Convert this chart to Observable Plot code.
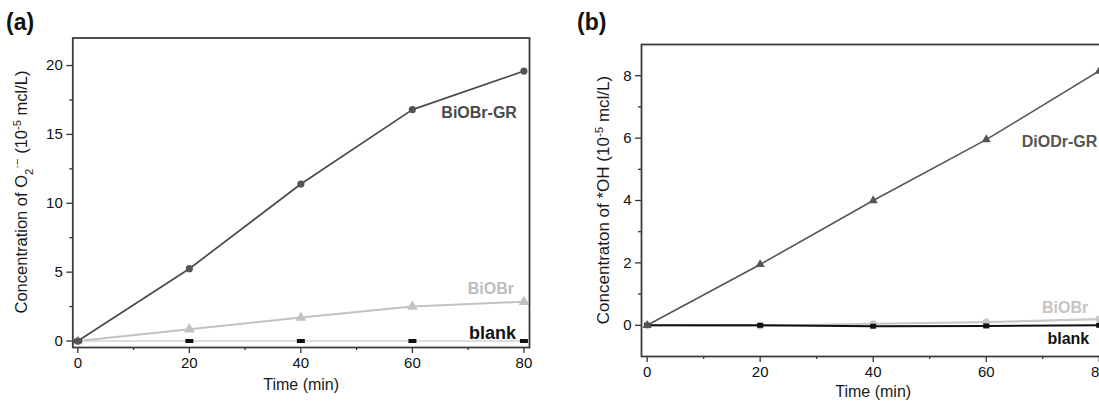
<!DOCTYPE html>
<html>
<head>
<meta charset="utf-8">
<script src="https://cdn.jsdelivr.net/npm/d3@7"></script>
<script src="https://cdn.jsdelivr.net/npm/@observablehq/plot@0.6"></script>
<style>
  html, body { margin: 0; padding: 0; background: #fff; overflow: hidden; }
  #fig { position: relative; width: 1099px; height: 402px; overflow: hidden;
         font-family: "Liberation Sans", Arial, sans-serif; background: #fff; }
  #fig svg { position: absolute; top: 0; overflow: visible; }
</style>
</head>
<body>
<div id="fig"></div>
<script>
// Irradiation time (min)
const time = [0, 20, 40, 60, 80];

// (a) O2·− concentration, 10^-5 mol/L
const o2GR    = [0, 5.25, 11.4, 16.8, 19.6];
const o2BiOBr = [0, 0.85, 1.7, 2.5, 2.85];
const o2Blank = [0, 0, 0, 0, 0];

// (b) ·OH concentration, 10^-5 mol/L
const ohGR    = [0, 1.95, 4.0, 5.95, 8.15];
const ohBiOBr = [0, -0.02, 0.05, 0.1, 0.2];
const ohBlank = [0, 0, -0.03, -0.02, 0];

// Axis ticks
const xTicks  = [0, 20, 40, 60, 80];
const xMinor  = [10, 30, 50, 70];
const yTicksA = [0, 5, 10, 15, 20];
const yMinorA = [2.5, 7.5, 12.5, 17.5];
const yTicksB = [0, 2, 4, 6, 8];
const yMinorB = [1, 3, 5, 7];

// Series names as printed beside the curves
const namesA = ["BiOBr-GR", "BiOBr", "blank"];
const namesB = ["DiODr-GR", "BiOBr", "blank"];

const FONT = '"Liberation Sans", Arial, sans-serif';

// flat rectangular marker for the blank runs
const barSymbol = (w, h) => ({ draw(ctx) { ctx.rect(-w / 2, -h / 2, w, h); } });

const rowsA = time.map((t, i) => ({ t, gr: o2GR[i], br: o2BiOBr[i], bl: o2Blank[i] }));
const rowsB = time.map((t, i) => ({ t, gr: ohGR[i], br: ohBiOBr[i], bl: ohBlank[i] }));

function axes(xT, xM, yT, yM, size) {
  return [
    Plot.axisX(xT, { tickSize: 6, tickPadding: 4, label: null, stroke: "#333", strokeWidth: 1.3, fontSize: size, fill: "#111" }),
    Plot.axisX(xM, { tickSize: 3, tickFormat: () => "", label: null, stroke: "#333", strokeWidth: 1.3 }),
    Plot.axisY(yT, { tickSize: 6, tickPadding: 4, label: null, stroke: "#333", strokeWidth: 1.3, fontSize: size, fill: "#111" }),
    Plot.axisY(yM, { tickSize: 3, tickFormat: () => "", label: null, stroke: "#333", strokeWidth: 1.3 })
  ];
}

// rotated y title with sub/superscripts
function yTitle(svg, x, y, size, parts) {
  const t = d3.select(svg).append("text")
    .attr("transform", `translate(${x},${y}) rotate(-90)`)
    .attr("text-anchor", "middle")
    .attr("font-family", FONT)
    .attr("font-size", size)
    .attr("fill", "#1a1a1a");
  for (const [s, kind] of parts) {
    const ts = t.append("tspan").text(s);
    if (kind === "sub") ts.attr("baseline-shift", "sub").attr("font-size", "0.68em");
    if (kind === "sup") ts.attr("baseline-shift", "super").attr("font-size", "0.68em");
  }
}

function panelTag(svg, x, y, s) {
  d3.select(svg).append("text")
    .attr("x", x).attr("y", y)
    .attr("text-anchor", "start")
    .attr("font-family", FONT).attr("font-weight", "bold")
    .attr("font-size", 23).attr("fill", "#111")
    .text(s);
}

// ---- panel (a) ----
const plotA = Plot.plot({
  width: 550, height: 402,
  marginLeft: 72.3, marginRight: 21, marginTop: 37.5, marginBottom: 55,
  x: { domain: [-0.9, 81] },
  y: { domain: [-0.47, 22] },
  style: { fontFamily: FONT, background: "transparent", color: "#222" },
  marks: [
    ...axes(xTicks, xMinor, yTicksA, yMinorA, 15),
    Plot.line(rowsA, { x: "t", y: "bl", stroke: "#bdbdbd", strokeWidth: 1 }),
    Plot.line(rowsA, { x: "t", y: "br", stroke: "#c2c2c2", strokeWidth: 2 }),
    Plot.dot(rowsA, { x: "t", y: "br", symbol: "triangle", r: 4, fill: "#c2c2c2" }),
    Plot.dot(rowsA, { x: "t", y: "bl", symbol: barSymbol(8, 4), r: 3, fill: "#111" }),
    Plot.line(rowsA, { x: "t", y: "gr", stroke: "#4a4a4a", strokeWidth: 1.7 }),
    Plot.dot(rowsA, { x: "t", y: "gr", r: 3.6, fill: "#555" }),
    Plot.frame({ stroke: "#3c3c3c", strokeWidth: 1.8 }),
    Plot.text(rowsA, Plot.selectLast({ x: "t", y: "gr", text: () => namesA[0], textAnchor: "end", dx: -7, dy: 42, fontSize: 16, fontWeight: "bold", fill: "#4a4a4a" })),
    Plot.text(rowsA, Plot.selectLast({ x: "t", y: "br", text: () => namesA[1], textAnchor: "end", dx: -10, dy: -13, fontSize: 16, fontWeight: "bold", fill: "#bdbdbd" })),
    Plot.text(rowsA, Plot.selectLast({ x: "t", y: "bl", text: () => namesA[2], textAnchor: "end", dx: -8, dy: -8, fontSize: 18, fontWeight: "bold", fill: "#111" })),
    Plot.text(["Time (min)"], { frameAnchor: "bottom", dy: 42, fontSize: 16, fill: "#1a1a1a" })
  ]
});
plotA.style.left = "0px";
document.getElementById("fig").appendChild(plotA);
yTitle(plotA, 27, 192, 16.5, [
  ["Concentration of O"], ["2", "sub"], ["·\u2212", "sup"], [" (10"], ["-5", "sup"], [" mcl/L)"]
]);
panelTag(plotA, 6, 30, "(a)");

// ---- panel (b) ----
const plotB = Plot.plot({
  width: 560, height: 402,
  marginLeft: 91, marginRight: 5.6, marginTop: 44, marginBottom: 46,
  x: { domain: [-1, 81] },
  y: { domain: [-1, 9] },
  style: { fontFamily: FONT, background: "transparent", color: "#222" },
  marks: [
    ...axes(xTicks, xMinor, yTicksB, yMinorB, 15),
    Plot.line(rowsB, { x: "t", y: "br", stroke: "#c8c8c8", strokeWidth: 2.2 }),
    Plot.dot(rowsB, { x: "t", y: "br", r: 3.6, fill: "#c8c8c8" }),
    Plot.line(rowsB, { x: "t", y: "bl", stroke: "#111", strokeWidth: 2 }),
    Plot.dot(rowsB, { x: "t", y: "bl", symbol: barSymbol(6, 5), r: 3, fill: "#111" }),
    Plot.line(rowsB, { x: "t", y: "gr", stroke: "#555", strokeWidth: 1.6 }),
    Plot.dot(rowsB, { x: "t", y: "gr", symbol: "triangle", r: 3.4, fill: "#555" }),
    Plot.frame({ stroke: "#3c3c3c", strokeWidth: 1.8 }),
    Plot.text(rowsB, Plot.selectLast({ x: "t", y: "gr", text: () => namesB[0], textAnchor: "end", dx: -2, dy: 71, fontSize: 16, fontWeight: "bold", fill: "#555" })),
    Plot.text(rowsB, Plot.selectLast({ x: "t", y: "br", text: () => namesB[1], textAnchor: "end", dx: -11, dy: -11, fontSize: 16, fontWeight: "bold", fill: "#c4c4c4" })),
    Plot.text(rowsB, Plot.selectLast({ x: "t", y: "bl", text: () => namesB[2], textAnchor: "end", dx: -10, dy: 14, fontSize: 16, fontWeight: "bold", fill: "#111" })),
    Plot.text(["Time (min)"], { frameAnchor: "bottom", dy: 40, fontSize: 16, fill: "#1a1a1a" })
  ]
});
plotB.style.left = "550px";
document.getElementById("fig").appendChild(plotB);
yTitle(plotB, 59, 200, 17, [
  ["Concentraton of *OH (10"], ["-5", "sup"], [" mcl/L)"]
]);
panelTag(plotB, 27, 30, "(b)");
</script>
</body>
</html>
